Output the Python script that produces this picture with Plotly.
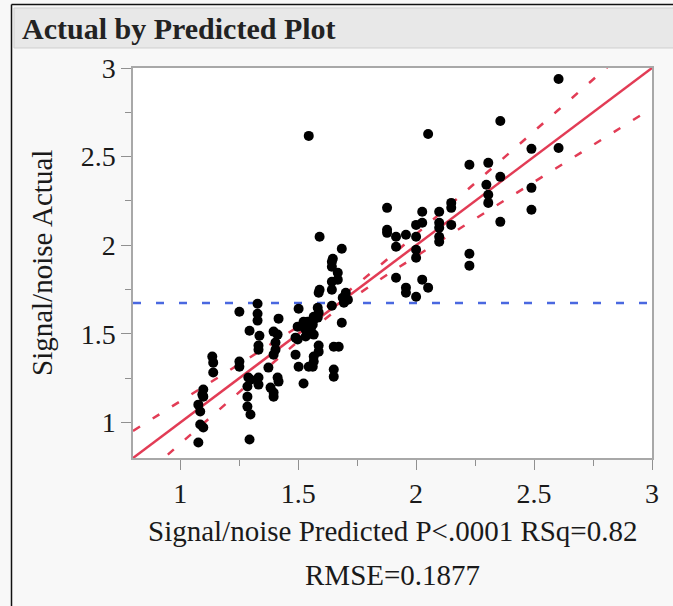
import plotly.graph_objects as go

# Actual by predicted points (predicted, actual)
pred = [1.077, 1.085, 1.098, 1.077, 1.085, 1.098, 1.094, 1.098,
        1.136, 1.14, 1.14,
        1.251, 1.251, 1.251,
        1.294, 1.285, 1.285, 1.285, 1.298, 1.294, 1.289, 1.298,
        1.328, 1.328, 1.328, 1.336, 1.332, 1.332, 1.332, 1.332,
        1.417, 1.396, 1.413, 1.404, 1.404, 1.396, 1.374, 1.413, 1.417, 1.383, 1.396, 1.396,
        1.502, 1.583, 1.643, 1.566, 1.566, 1.540, 1.498, 1.532, 1.553, 1.489, 1.532, 1.685,
        1.587, 1.587, 1.651, 1.672, 1.566, 1.566, 1.489, 1.545, 1.651, 1.651, 1.502, 1.523,
        1.523, 1.562, 1.553, 1.566, 1.583, 1.587, 1.562, 1.498,
        1.591, 1.685, 1.647, 1.643, 1.643, 1.668, 1.668, 1.643, 1.591, 1.587, 1.643, 1.702,
        1.711, 1.689, 1.694,
        1.545, 2.051,
        1.877, 1.877, 1.877, 1.915, 1.915, 1.957, 2.026, 2.026, 2.0, 2.0, 2.0, 2.0,
        2.098, 2.098, 2.098, 2.098, 2.098, 2.149, 2.149, 2.149,
        1.915, 1.957, 1.957, 2.0, 2.026, 2.051,
        2.604, 2.357, 2.489, 2.604, 2.226, 2.306, 2.357, 2.298, 2.306, 2.306,
        2.489, 2.489, 2.357, 2.226, 2.226]
actual = [0.887, 0.989, 0.972, 1.101, 1.062, 1.186, 1.158, 1.146,
          1.372, 1.338, 1.282,
          1.625, 1.344, 1.315,
          1.518, 1.203, 1.146, 1.090, 1.045, 0.904, 1.254, 1.242,
          1.670, 1.614, 1.575, 1.490, 1.434, 1.411, 1.254, 1.214,
          1.586, 1.513, 1.496, 1.451, 1.411, 1.383, 1.310, 1.254, 1.231, 1.197, 1.169, 1.146,
          1.642, 1.648, 1.659, 1.597, 1.580, 1.569, 1.541, 1.524, 1.524, 1.479, 1.485, 1.563,
          1.434, 1.400, 1.428, 1.428, 1.372, 1.344, 1.383, 1.315, 1.299, 1.259, 1.315, 1.220,
          1.569, 1.552, 1.513, 1.496, 1.592, 1.620, 1.315, 1.468,
          2.048, 1.980, 1.924, 1.907, 1.879, 1.845, 1.806, 1.794, 1.749, 1.732, 1.749, 1.732,
          1.693, 1.704, 1.676,
          2.617, 2.628,
          2.211, 2.087, 2.070, 2.048, 1.992, 2.059, 2.189, 2.127, 2.115, 2.048, 1.975, 1.930,
          2.189, 2.127, 2.099, 2.048, 2.020, 2.239, 2.211, 2.115,
          1.817, 1.761, 1.732, 1.710, 1.806, 1.761,
          2.938, 2.701, 2.544, 2.549, 2.454, 2.465, 2.386, 2.341, 2.285, 2.239,
          2.324, 2.200, 2.132, 1.952, 1.885]

mean_actual = 1.675
fit_x = [0.8, 3.0]
fit_y = [0.8, 3.0]
band_x = [0.8, 1.0, 1.2, 1.4, 1.5, 1.68, 1.85, 2.0, 2.2, 2.4, 2.6, 2.8, 3.0]
band_half = [0.153, 0.120, 0.087, 0.056, 0.042, 0.028, 0.040, 0.062, 0.093, 0.126, 0.160, 0.193, 0.227]

x_ticks = [1, 1.5, 2, 2.5, 3]
y_ticks = [1, 1.5, 2, 2.5, 3]
ax_range = [0.8, 3.0]

title_text = "Actual by Predicted Plot"
x_title = "Signal/noise Predicted P<.0001 RSq=0.82"
x_title2 = "RMSE=0.1877"
y_title = "Signal/noise Actual"

RED = "#E23C55"
BLUE = "#4A68E0"
SERIF = "Liberation Serif, Times New Roman, serif"

upper = [x + h for x, h in zip(band_x, band_half)]
lower = [x - h for x, h in zip(band_x, band_half)]

fig = go.Figure()
fig.add_trace(go.Scatter(x=ax_range, y=[mean_actual, mean_actual], mode="lines",
                         line=dict(color=BLUE, width=2.5, dash="8px,15px"), hoverinfo="skip"))
fig.add_trace(go.Scatter(x=band_x, y=upper, mode="lines", line_shape="spline",
                         line=dict(color=RED, width=2.5, dash="8px,15px"), hoverinfo="skip"))
fig.add_trace(go.Scatter(x=band_x, y=lower, mode="lines", line_shape="spline",
                         line=dict(color=RED, width=2.5, dash="8px,15px"), hoverinfo="skip"))
fig.add_trace(go.Scatter(x=fit_x, y=fit_y, mode="lines",
                         line=dict(color=RED, width=2.5), hoverinfo="skip"))
fig.add_trace(go.Scatter(x=pred, y=actual, mode="markers",
                         marker=dict(color="black", size=10, line=dict(width=0))))

W, H = 673, 606
L, R, T, B = 133, 21, 68, 148
pw, ph = W - L - R, H - T - B


def px_x(px):
    return (px - L) / pw


def px_y(py):
    return (H - B - py) / ph


axis_common = dict(range=ax_range, showgrid=False, zeroline=False, showline=True,
                   linecolor="#A8A8A8", linewidth=1.5, mirror=True,
                   ticks="outside", ticklen=10, tickwidth=1, tickcolor="#909090",
                   tickfont=dict(family=SERIF, size=28, color="#1a1a1a"),
                   tickvals=x_ticks, ticktext=[f"{v:g}" for v in x_ticks],
                   minor=dict(dtick=0.25, tick0=0, ticks="outside", ticklen=6,
                              tickcolor="#909090", tickwidth=1))

fig.update_xaxes(**axis_common)
fig.update_yaxes(**{**axis_common, "tickvals": y_ticks,
                    "ticktext": [f"{v:g}" for v in y_ticks]})

shapes = [
    # header bar
    dict(type="rect", xref="paper", yref="paper", x0=px_x(14), x1=px_x(675),
         y0=px_y(48), y1=px_y(8), fillcolor="#E8E8E8", line=dict(color="#CFCFCF", width=1),
         layer="below"),
    # outer border (left and top)
    dict(type="line", xref="paper", yref="paper", x0=px_x(11.5), x1=px_x(11.5),
         y0=px_y(4.5), y1=px_y(610), line=dict(color="#111", width=1.5)),
    dict(type="line", xref="paper", yref="paper", x0=px_x(11.5), x1=px_x(675),
         y0=px_y(4.5), y1=px_y(4.5), line=dict(color="#111", width=1.5)),
]

annotations = [
    dict(text="<b>" + title_text + "</b>", xref="paper", yref="paper", x=px_x(20), y=px_y(29),
         xanchor="left", yanchor="middle", showarrow=False,
         font=dict(family=SERIF, size=30, color="#222")),
    dict(text=x_title, xref="paper", yref="paper", x=px_x(392), y=px_y(531),
         xanchor="center", yanchor="middle", showarrow=False,
         font=dict(family=SERIF, size=29, color="#1a1a1a")),
    dict(text=x_title2, xref="paper", yref="paper", x=px_x(392), y=px_y(575),
         xanchor="center", yanchor="middle", showarrow=False,
         font=dict(family=SERIF, size=29, color="#1a1a1a")),
    dict(text=y_title, xref="paper", yref="paper", x=px_x(42), y=px_y(263),
         xanchor="center", yanchor="middle", showarrow=False, textangle=-90,
         font=dict(family=SERIF, size=29, color="#1a1a1a")),
]

fig.update_layout(width=W, height=H, margin=dict(l=L, r=R, t=T, b=B, pad=0),
                  paper_bgcolor="#F8F8F8", plot_bgcolor="white", showlegend=False,
                  shapes=shapes, annotations=annotations)

fig.write_html("out.html")
